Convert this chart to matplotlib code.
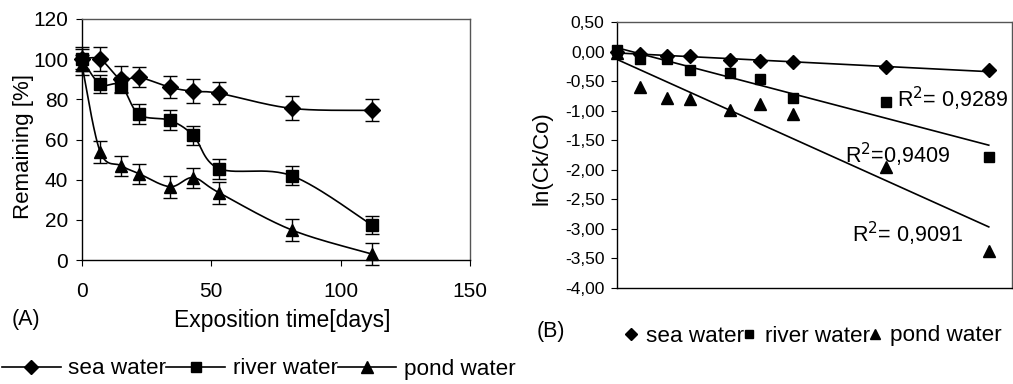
import numpy as np
import matplotlib
matplotlib.use("Agg")
import matplotlib.pyplot as plt
from matplotlib.lines import Line2D
from matplotlib.ticker import FuncFormatter

plt.rcParams['font.family'] = ['Liberation Sans', 'DejaVu Sans']

# ── Data ───────────────────────────────────────────────────────────────────────
days = [0, 7, 15, 22, 34, 43, 53, 81, 112]
series = ['sea water', 'river water', 'pond water']
markers = ['D', 's', '^']

sea_pct   = [100, 100, 90, 91, 86, 84, 83, 75.5, 74.5]
river_pct = [100, 87.5, 87, 72.5, 69.5, 62, 45.5, 42, 17.5]
pond_pct  = [97, 54, 47, 43, 36.5, 41, 33.5, 15, 3]
sea_err   = [6, 6, 6.5, 5, 5.5, 6, 5.5, 6, 5.5]
river_err = [5, 4.5, 4, 5, 5, 4.5, 5, 4.8, 4.5]
pond_err  = [5, 5.5, 5, 5, 5.5, 5, 5.5, 5.5, 5.5]

sea_ln   = [0.0, -0.04, -0.07, -0.08, -0.135, -0.165, -0.18, -0.26, -0.32]
river_ln = [0.02, -0.13, -0.12, -0.32, -0.36, -0.47, -0.79, -0.86, -1.79]
pond_ln  = [-0.02, -0.60, -0.78, -0.81, -0.99, -0.89, -1.06, -1.95, -3.38]
r2_labels = ['R$^2$= 0,9289', 'R$^2$=0,9409', 'R$^2$= 0,9091']

pct = [sea_pct, river_pct, pond_pct]
err = [sea_err, river_err, pond_err]
lnc = [sea_ln, river_ln, pond_ln]


def smooth(x, y, n=30):
    """Excel-like smoothed line (Catmull-Rom style Bezier segments)."""
    x = np.asarray(x, float)
    y = np.asarray(y, float)
    pts = np.column_stack([x, y])
    out = []
    for i in range(len(pts) - 1):
        p0 = pts[max(i - 1, 0)]
        p1 = pts[i]
        p2 = pts[i + 1]
        p3 = pts[min(i + 2, len(pts) - 1)]
        c1 = p1 + (p2 - p0) / 6
        c2 = p2 - (p3 - p1) / 6
        t = np.linspace(0, 1, n)[:, None]
        seg = ((1 - t) ** 3 * p1 + 3 * (1 - t) ** 2 * t * c1
               + 3 * (1 - t) * t ** 2 * c2 + t ** 3 * p2)
        out.append(seg)
    cur = np.vstack(out)
    return cur[:, 0], cur[:, 1]


W, H = 1013, 384
fig = plt.figure(figsize=(W / 100, H / 100), dpi=100)

# ── Panel A ────────────────────────────────────────────────────────────────────
axA = fig.add_axes([82 / W, 1 - 260 / H, 388 / W, 241 / H])
for vals, e, m in zip(pct, err, markers):
    sx, sy = smooth(days, vals)
    axA.plot(sx, sy, color='black', lw=1.2, zorder=2, clip_on=False)
    ms = 8 if m != '^' else 9
    axA.errorbar(days, vals, yerr=e, fmt=m, color='black', ms=ms,
                 capsize=5, elinewidth=1.0, capthick=1.0, zorder=3, clip_on=False)
axA.set_xlim(0, 150)
axA.set_ylim(0, 120)
axA.set_xticks([0, 50, 100, 150])
axA.set_yticks(range(0, 121, 20))
axA.tick_params(labelsize=15, direction='out', length=4)
axA.tick_params(axis='x', pad=12)
axA.tick_params(axis='y', pad=6)
axA.set_ylabel('Remaining [%]', fontsize=16)
axA.yaxis.set_label_coords(-0.124, 0.47)
for sp in axA.spines.values():
    sp.set_linewidth(1.0)
    sp.set_color('black')
axA.spines['top'].set_color('#555555')
axA.spines['right'].set_color('#555555')

fig.text(282 / W, 1 - 320 / H, 'Exposition time[days]', fontsize=16.5,
         ha='center', va='center')
fig.text(12 / W, 1 - 320 / H, '(A)', fontsize=15.5, ha='left', va='center')

handlesA = [Line2D([0], [0], color='black', lw=1.2, marker=m,
                   ms=(7 if m != '^' else 8), mfc='black', mec='black')
            for m in markers]
fig.legend(handlesA, series, loc='center left',
           bbox_to_anchor=(0.002, 1 - 369 / H), ncol=3, frameon=False,
           fontsize=16.2, handlelength=2.6, handletextpad=0.35,
           columnspacing=0.0, borderpad=0, borderaxespad=0)

# ── Panel B ────────────────────────────────────────────────────────────────────
axB = fig.add_axes([617 / W, 1 - 288 / H, 395 / W, 266 / H])
for vals, m, lab, pos in zip(lnc, markers, r2_labels,
                             [(84.3, -0.80), (68.7, -1.74), (70.8, -3.08)]):
    ms = 7 if m == 'D' else (7.5 if m == 's' else 9)
    axB.plot(days, vals, m, color='black', ms=ms, zorder=3, clip_on=False)
    k, b = np.polyfit(days, vals, 1)
    xx = np.array([days[0], days[-1]])
    axB.plot(xx, k * xx + b, color='black', lw=1.2, zorder=2)
    axB.text(pos[0], pos[1], lab, fontsize=15.5, ha='left', va='center')
axB.set_xlim(0, 119)
axB.set_ylim(-4, 0.5)
axB.set_xticks([])
axB.set_yticks(np.arange(-4, 0.51, 0.5))
axB.yaxis.set_major_formatter(FuncFormatter(lambda v, _: f'{v:.2f}'.replace('.', ',')))
axB.tick_params(labelsize=12.5, direction='out', length=4, pad=5)
axB.set_ylabel('ln(Ck/Co)', fontsize=16)
axB.yaxis.set_label_coords(-0.163, 0.49)
for sp in axB.spines.values():
    sp.set_linewidth(1.0)
    sp.set_color('black')
axB.spines['top'].set_color('#555555')
axB.spines['right'].set_color('#555555')

fig.text(537 / W, 1 - 331 / H, '(B)', fontsize=15.5, ha='left', va='center')
handlesB = [Line2D([0], [0], color='black', lw=0, marker=m,
                   ms=(6 if m != '^' else 7), mfc='black', mec='black')
            for m in markers]
fig.legend(handlesB, series, loc='center left',
           bbox_to_anchor=(626 / W, 1 - 336 / H), ncol=3, frameon=False,
           fontsize=16.2, handlelength=0.45, handletextpad=0.45,
           columnspacing=0.0, borderpad=0, borderaxespad=0)

fig.savefig('out.png', dpi=100)
